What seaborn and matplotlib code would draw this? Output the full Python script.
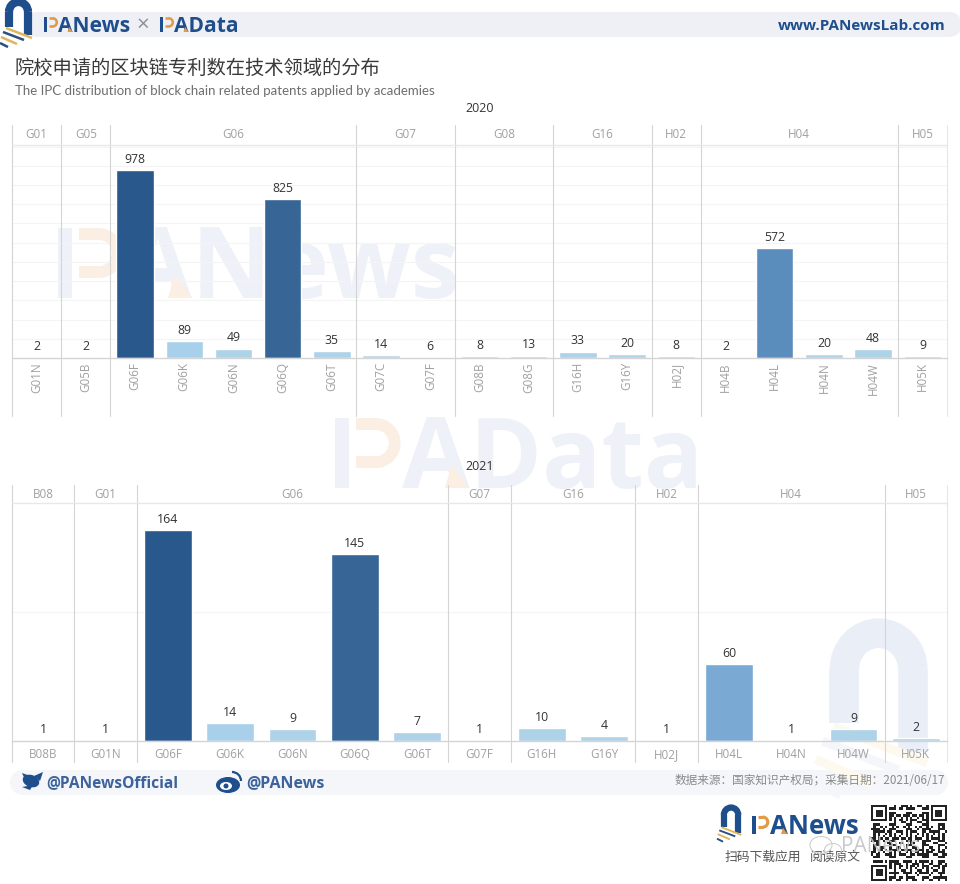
import matplotlib
matplotlib.use("Agg")
import matplotlib.pyplot as plt
import seaborn as sns
import pandas as pd
from matplotlib.patches import Arc, Rectangle, Ellipse, Polygon

sns.set_theme(style="white")
plt.rcParams['font.family'] = ['Noto Sans CJK SC', 'DejaVu Sans']

W, H = 960, 884

cats_2020 = ["G01N","G05B","G06F","G06K","G06N","G06Q","G06T","G07C","G07F","G08B",
             "G08G","G16H","G16Y","H02J","H04B","H04L","H04N","H04W","H05K"]
vals_2020 = [2,2,978,89,49,825,35,14,6,8,13,33,20,8,2,572,20,48,9]
cols_2020 = ["#b4d5ea","#b4d5ea","#29598c","#a9d0ea","#aed2e8","#376596","#aed2e8","#b7d4e6","#b7d4e6","#b7d4e6",
             "#b7d4e6","#aed2e8","#b0d3e8","#b7d4e6","#b7d4e6","#5a8dbb","#b0d3e8","#aed2e8","#b7d4e6"]

cats_2021 = ["B08B","G01N","G06F","G06K","G06N","G06Q","G06T","G07F","G16H","G16Y",
             "H02J","H04L","H04N","H04W","H05K"]
vals_2021 = [1,1,164,14,9,145,7,1,10,4,1,60,1,9,2]
cols_2021 = ["#b4d5ea","#b4d5ea","#29598c","#a9d0ea","#aed2e8","#376596","#aed2e8","#b4d5ea","#aed2e8","#b0d3e8",
             "#b4d5ea","#7aaad3","#b4d5ea","#aed2e8","#b0d3e8"]

GRAY = "#a0a0a0"
LINE = "#d4d4d4"
NAVY = "#1f4e8c"
FONT = "Open Sans"

fig = plt.figure(figsize=(W/100, H/100), dpi=100, facecolor="white")
bg = fig.add_axes([0, 0, 1, 1], zorder=0)
bg.set_xlim(0, W); bg.set_ylim(H, 0); bg.axis("off")


def logo(ax, x, y, s=1.0, arch=NAVY, c1="#e0b65a", c2="#2f4f7f", z=3):
    """Arch and four stripes; x, y = top-left of a 32x47 px mark, s = scale."""
    lw = 8.2 * s * 0.72
    ax.add_patch(Arc((x+18.5*s, y+12*s), 19*s, 20*s, theta1=180, theta2=360, lw=lw, color=arch, zorder=z))
    ax.plot([x+9*s]*2, [y+12*s, y+27*s], color=arch, lw=lw, solid_capstyle="butt", zorder=z)
    ax.plot([x+28*s]*2, [y+12*s, y+35*s], color=arch, lw=lw, solid_capstyle="butt", zorder=z)
    stripes = [((6, 28), (32, 38), c1), ((3, 32), (24, 40), c2), ((1, 37), (17, 44), c1), ((0, 43), (8, 47), c2)]
    for a, b, c in stripes:
        ax.plot([x+a[0]*s, x+b[0]*s], [y+a[1]*s, y+b[1]*s], color=c, lw=2.0*s*0.9,
                solid_capstyle="butt", zorder=z+1)


def brand(ax, x, base, cap, rest, color=NAVY, orange="#e39a45", z=3):
    """Brand word with the split P and orange-footed A; x = left, base = baseline, cap = cap height px."""
    stem = 0.2 * cap
    ax.add_patch(Rectangle((x, base-cap), stem, cap, fc=color, ec="none", zorder=z))
    t = 0.17 * cap
    lw = t * 0.72
    bx0, bx1 = x + 0.3*cap, x + 0.58*cap
    top, bot = base - cap + t/2, base - 0.37*cap
    ax.plot([bx0, bx1], [top, top], color=orange, lw=lw, solid_capstyle="butt", zorder=z)
    ax.plot([bx0, bx1], [bot, bot], color=orange, lw=lw, solid_capstyle="butt", zorder=z)
    r = bot - top
    ax.add_patch(Arc((bx1, (top+bot)/2), r, r, theta1=-90, theta2=90, lw=lw, color=orange, zorder=z))
    rx = x + 0.95*cap
    ax.text(rx, base, rest, fontsize=cap/0.714*0.72, fontweight="bold", color=color, family=FONT,
            va="baseline", ha="left", zorder=z)
    ax.add_patch(Polygon([[rx+0.62*cap, base], [rx+0.97*cap, base], [rx+0.72*cap, base-0.34*cap]],
                         fc=orange, ec="none", zorder=z+1))


def band(x0, y0, x1, y1, color):
    r = (y1-y0)/2
    bg.add_patch(Rectangle((x0+r, y0), x1-x0-2*r, y1-y0, fc=color, ec="none", zorder=1))
    bg.add_patch(Ellipse((x0+r, (y0+y1)/2), 2*r, y1-y0, fc=color, ec="none", zorder=1))
    bg.add_patch(Ellipse((x1-r, (y0+y1)/2), 2*r, y1-y0, fc=color, ec="none", zorder=1))


# header and footer bands
band(25, 12, 962, 37, "#eff0f6")
band(10, 770, 948, 795, "#f5f6fa")

# watermarks
brand(bg, 58, 298, 70, "ANews", color="#eef1f8", orange="#fbefe4", z=1)
brand(bg, 335, 488, 70, "AData", color="#eef1f8", orange="#fbefe4", z=1)
logo(bg, 812, 626, 3.6, arch="#eaeff7", c1="#fdf9ee", c2="#f4f6fa", z=1)

# header
logo(bg, 0, 0, 1.0)
brand(bg, 44, 32, 15, "ANews")
bg.text(143, 25, "×", fontsize=16, color="#8d9099", family=FONT, ha="center", va="center", zorder=3)
brand(bg, 160, 32, 15, "AData")
bg.text(946, 26, "www.PANewsLab.com", fontsize=11, fontweight="bold", color=NAVY, family=FONT,
        ha="right", va="center", zorder=3)

# titles
bg.text(15, 68, "院校申请的区块链专利数在技术领域的分布", fontsize=13.9, color="#3a3a3a", va="center", zorder=3)
bg.text(15, 91, "The IPC distribution of block chain related patents applied by academies",
        fontsize=9.55, color="#6e6e6e", family="Lato", va="center", zorder=3)
bg.text(480, 108, "2020", fontsize=9, color="#333333", family=FONT, ha="center", va="center", zorder=3)
bg.text(480, 467, "2021", fontsize=9, color="#333333", family=FONT, ha="center", va="center", zorder=3)


def panel(cats, vals, cols, head_top, plot_top, base, bottom, ymax, step, rotate):
    x0, x1 = 12, 947
    ax = fig.add_axes([x0/W, 1-base/H, (x1-x0)/W, (base-plot_top)/H], zorder=2)
    ax.patch.set_alpha(0)
    df = pd.DataFrame({"code": cats, "n": vals})
    sns.barplot(data=df, x="code", y="n", hue="code", order=cats, hue_order=cats,
                palette=dict(zip(cats, cols)), width=0.76, legend=False, saturation=1, ax=ax)
    for c in ax.containers:
        ax.bar_label(c, padding=3, fontsize=8.8, color="#333333", family=FONT)
    ax.set_xlim(-0.5, len(cats)-0.5)
    ax.set_ylim(0, ymax)
    ax.set_xlabel(""); ax.set_ylabel("")
    ax.set_yticks(range(step, int(ymax)+1, step))
    ax.set_yticklabels([])
    ax.tick_params(axis="y", length=0)
    ax.yaxis.grid(True, color="#f4f4f4", lw=0.8)
    ax.xaxis.grid(False)
    ax.set_axisbelow(True)
    for s in ax.spines.values():
        s.set_visible(False)
    ax.spines["bottom"].set_visible(True)
    ax.spines["bottom"].set_color(LINE)
    ax.spines["bottom"].set_linewidth(1)
    ax.spines["top"].set_visible(True)
    ax.spines["top"].set_color("#e8e8e8")
    ax.spines["top"].set_linewidth(1)
    ax.set_xticks(range(len(cats)))
    ax.set_xticklabels(cats, rotation=90 if rotate else 0, fontsize=8.4, color=GRAY, family=FONT)
    ax.tick_params(axis="x", length=0, pad=3 if rotate else 9)
    if not rotate:
        for lab in ax.get_xticklabels():
            lab.set_verticalalignment("center_baseline")

    # group dividers and headers, spanning header strip to label strip
    trans = ax.get_xaxis_transform()
    h = base - plot_top
    ya = (base - head_top) / h
    yb = (base - bottom) / h
    groups = [c[:3] for c in cats]
    start = 0
    for i in range(1, len(cats)+1):
        if i == len(cats) or groups[i] != groups[start]:
            ax.plot([start-0.5]*2, [yb, ya], transform=trans, color=LINE, lw=0.8, clip_on=False, zorder=1)
            ax.text((start+i-1)/2, (base-(head_top+plot_top)/2)/h, groups[start], transform=trans,
                    ha="center", va="center", fontsize=8.4, color=GRAY, family=FONT)
            start = i
    ax.plot([len(cats)-0.5]*2, [yb, ya], transform=trans, color="#e6e6e6", lw=0.8, clip_on=False, zorder=1)
    return ax


panel(cats_2020, vals_2020, cols_2020, 125, 145, 358, 416, 1108, 100, True)
panel(cats_2021, vals_2021, cols_2021, 485, 503, 741, 762, 185, 100, False)

# footer
bg.add_patch(Ellipse((31, 781), 17, 12, angle=20, fc=NAVY, ec="none", zorder=3))
bg.add_patch(Polygon([[22, 773], [33, 777], [28, 786]], fc=NAVY, ec="none", zorder=3))
bg.add_patch(Polygon([[34, 776], [43, 772], [40, 781]], fc=NAVY, ec="none", zorder=3))
bg.add_patch(Polygon([[22, 787], [33, 785], [30, 790]], fc=NAVY, ec="none", zorder=3))
bg.text(46, 783, "@PANewsOfficial", fontsize=11.2, fontweight="bold", color="#3c639c", family=FONT, va="center", zorder=3)
bg.add_patch(Ellipse((228, 785), 24, 16, fc=NAVY, ec="none", zorder=3))
bg.add_patch(Ellipse((226, 786), 12, 8, fc="white", ec="none", zorder=4))
bg.add_patch(Ellipse((226, 786), 5, 5, fc=NAVY, ec="none", zorder=5))
bg.add_patch(Arc((232, 781), 18, 18, theta1=-90, theta2=0, color=NAVY, lw=1.6, zorder=3))
bg.text(246, 783, "@PANews", fontsize=11.5, fontweight="bold", color="#3c639c", family=FONT, va="center", zorder=3)
bg.text(945, 781, "数据来源：国家知识产权局；采集日期：2021/06/17", fontsize=8.4, color="#8a8a8a",
        ha="right", va="center", zorder=3)

# bottom brand
logo(bg, 717, 806, 0.76)
brand(bg, 752, 834, 18.5, "ANews")
bg.text(725, 857, "扫码下载应用", fontsize=9.2, color="#555555", va="center", zorder=3)
bg.text(810, 857, "阅读原文", fontsize=9.2, color="#555555", va="center", zorder=3)

# QR-style block
qx, qy, qs, qn = 871, 805, 76, 33
m = qs / qn
bg.add_patch(Rectangle((qx-1, qy-1), qs+2, qs+2, fc="white", ec="none", zorder=3))
for i in range(qn):
    for j in range(qn):
        corner = (i < 8 and j < 8) or (i < 8 and j >= qn-8) or (i >= qn-8 and j < 8)
        if not corner and ((i*i*3 + j*5 + i*j) % 7 < 3 or (i+j*j) % 5 == 0):
            bg.add_patch(Rectangle((qx+j*m, qy+i*m), m, m, fc="#222222", ec="none", zorder=4))
for cx, cy in [(0, 0), (qn-7, 0), (0, qn-7)]:
    bg.add_patch(Rectangle((qx+cx*m, qy+cy*m), 7*m, 7*m, fc="#222222", ec="none", zorder=4))
    bg.add_patch(Rectangle((qx+(cx+1)*m, qy+(cy+1)*m), 5*m, 5*m, fc="white", ec="none", zorder=5))
    bg.add_patch(Rectangle((qx+(cx+2)*m, qy+(cy+2)*m), 3*m, 3*m, fc="#222222", ec="none", zorder=6))

# channel watermark over the QR block
bg.add_patch(Ellipse((821, 845), 22, 17, fc="none", ec="#cfcfcf", lw=0.8, zorder=7))
bg.add_patch(Ellipse((833, 850), 17, 13, fc="none", ec="#cfcfcf", lw=0.8, zorder=7))
bg.text(841, 846, "PANews", fontsize=15, color="#c4c4c4", family=FONT, va="center", alpha=0.9, zorder=7)

fig.savefig("out.png", dpi=100, facecolor="white")
